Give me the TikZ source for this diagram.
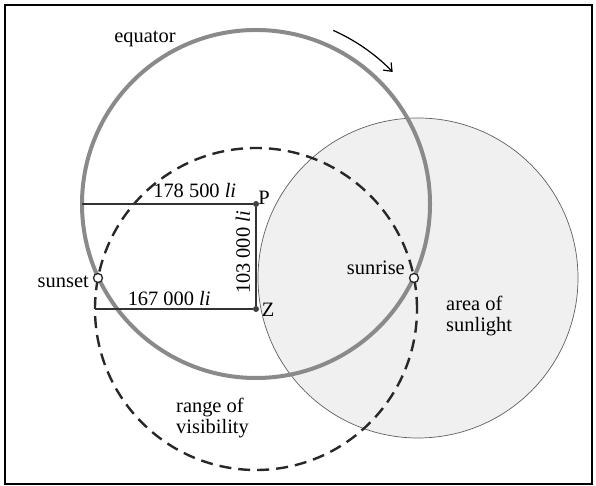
\documentclass[tikz,border=0pt]{standalone}
\usepackage{fontspec}
\setmainfont{Liberation Serif}
\usetikzlibrary{arrows.meta}
\definecolor{eqgray}{RGB}{138,138,138}
\definecolor{sunfill}{RGB}{240,240,240}
\definecolor{sunedge}{RGB}{95,95,95}
\definecolor{visdash}{RGB}{40,40,40}

\begin{document}
\begin{tikzpicture}[
    x=1bp, y=1bp,
    font=\fontsize{20.5}{21}\selectfont,
    ring/.style={circle, inner sep=0pt, outer sep=0pt},
    opendot/.style={circle, draw=black!85, fill=white, line width=1.3bp, inner sep=0pt, minimum size=9bp},
    fulldot/.style={circle, fill=black!75, inner sep=0pt, minimum size=6bp},
    measure/.style={draw=black!80, line width=1.3bp},
    lbl/.style={inner sep=0pt, align=left}
]
    % Define circle radii
    \def\eqradius{174}
    \def\visradius{161}
    \def\sunradius{160}
    \pgfmathsetmacro{\eqdiam}{2*\eqradius}
    \pgfmathsetmacro{\visdiam}{2*\visradius}
    \pgfmathsetmacro{\sundiam}{2*\sunradius}

    \useasboundingbox (0,0) rectangle (596,486);
    % Frame
    \draw[line width=1.6bp] (5,2) rectangle (592,481);

    % Area of sunlight
    \node[ring, fill=sunfill, draw=sunedge, line width=0.7bp, minimum size=\sundiam bp] (sunlight) at (418,208) {};

    % Pole and zenith
    \node[fulldot] (P) at (256,282) {};
    \node[fulldot] (Z) at (256,177) {};

    % Equator and range of visibility
    \node[ring, draw=eqgray, line width=4bp, minimum size=\eqdiam bp] (equator) at (P) {};
    \node[ring, draw=visdash, line width=2.4bp, dash pattern=on 12bp off 7bp, minimum size=\visdiam bp] (range) at (Z) {};

    % Direction of rotation
    \draw[line width=1.2bp, -{Straight Barb[length=7bp, width=11bp]}] ([shift={(66:190)}]P.center) arc[start angle=66, end angle=44, radius=190];

    % Distances
    \draw[measure] (equator.west) -- node[lbl, pos=0.66, anchor=south, outer sep=6bp] (dPlabel) {178 500 \textit{li}} (P);
    \draw[measure] (range.west) -- node[lbl, pos=0.47, anchor=south, outer sep=3bp] (dZlabel) {167 000 \textit{li}} (Z);
    \draw[measure] (P) -- node[lbl, pos=0.46, rotate=90, anchor=south, outer sep=6bp] (dPZlabel) {103 000 \textit{li}} (Z);

    % Sunset and sunrise
    \node[opendot] (sunset) at (98,208) {};
    \node[opendot] (sunrise) at (414,208) {};

    % Labels
    \node[lbl] (Plabel) at (264,288) {P};
    \node[lbl] (Zlabel) at (268,176) {Z};
    \node[lbl] (equatorlabel) at (145,447) {equator};
    \node[lbl, anchor=base east] (sunsetlabel) at (89,198) {sunset};
    \node[lbl, anchor=base east] (sunriselabel) at (405,211) {sunrise};
    \node[lbl, anchor=west] (sunlightlabel) at (446,170) {area of\\sunlight};
    \node[lbl, anchor=west] (rangelabel) at (176,68) {range of\\visibility};
\end{tikzpicture}
\end{document}
